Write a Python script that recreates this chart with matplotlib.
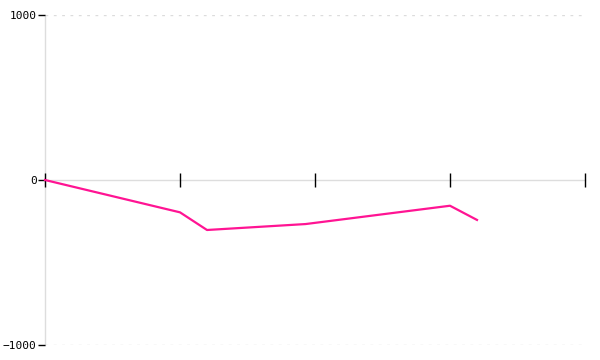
import matplotlib
matplotlib.use("Agg")
import matplotlib.pyplot as plt

x_vals = [0, 1, 1.2, 1.93, 3, 3.2]
y_vals = [0, -196, -303, -267, -156, -242]
x_ticks = [0, 1, 2, 3, 4]
y_ticks = [-1000, 0, 1000]
y_labels = ["\u22121000", "0", "1000"]

fig = plt.figure(figsize=(6, 3.6), dpi=100)
ax = fig.add_axes([45/600, 15/360, 540/600, 330/360])
ax.set_xlim(0, 4)
ax.set_ylim(-1000, 1000)

for s in ["top", "right"]:
    ax.spines[s].set_visible(False)
ax.spines["left"].set_color("#dddddd")
ax.spines["left"].set_linewidth(1)
ax.spines["left"].set_zorder(0.5)
ax.spines["bottom"].set_position(("data", 0))
ax.spines["bottom"].set_color("#dddddd")
ax.spines["bottom"].set_linewidth(1)
ax.spines["bottom"].set_zorder(0.5)

for yv in [-1000, 1000]:
    ax.axhline(yv, color="#dcdcdc", lw=1, ls=(0, (2, 4)), zorder=0)

ax.set_xticks(x_ticks)
ax.set_xticklabels([])
ax.tick_params(axis="x", direction="inout", length=10, width=1, color="black")
ax.set_yticks(y_ticks)
ax.set_yticklabels(y_labels, family="DejaVu Sans Mono", fontsize=8)
ax.tick_params(axis="y", direction="out", length=5, width=1, color="black", pad=1)

ax.plot(x_vals, y_vals, color="#ff1493", lw=1.6, clip_on=False, zorder=3)

fig.savefig("out.png", dpi=100, facecolor="white")
